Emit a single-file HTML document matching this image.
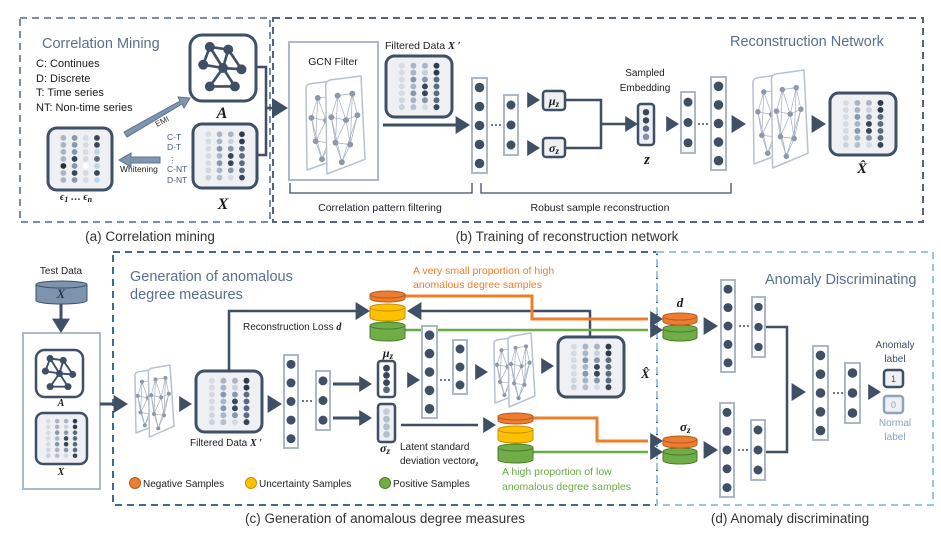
<!DOCTYPE html>
<html><head><meta charset="utf-8"><style>
html,body{margin:0;padding:0;background:#fff;}
svg{display:block;font-family:"Liberation Sans",sans-serif;}
.t{font-size:11px;fill:#1a1a1a;}
.h{font-size:14.5px;fill:#5a6f8c;}
.cap{font-size:13.5px;fill:#333;}
.m{font-family:"Liberation Serif",serif;font-style:italic;font-weight:bold;fill:#1a1a1a;}
</style></head><body>
<svg id="s" width="941" height="533" viewBox="0 0 941 533" xmlns="http://www.w3.org/2000/svg">
<rect x="20" y="18" width="250" height="204" fill="none" stroke="#7b8ea6" stroke-width="2" stroke-dasharray="7,5"/>
<rect x="273" y="18" width="650" height="204" fill="none" stroke="#56657c" stroke-width="2" stroke-dasharray="7,5"/>
<rect x="113" y="252" width="544" height="253" fill="none" stroke="#3d6a98" stroke-width="2" stroke-dasharray="7,5"/>
<rect x="657" y="252" width="276" height="253" fill="none" stroke="#9cc4e6" stroke-width="2" stroke-dasharray="7,5"/>
<text class="cap" x="150" y="241" text-anchor="middle">(a) Correlation mining</text>
<text class="cap" x="567" y="241" text-anchor="middle">(b) Training of reconstruction network</text>
<text class="cap" x="385" y="523" text-anchor="middle">(c) Generation of anomalous degree measures</text>
<text class="cap" x="790" y="523" text-anchor="middle">(d) Anomaly discriminating</text>

<text class="h" x="42" y="48">Correlation Mining</text>
<text class="t" x="36" y="67">C: Continues</text>
<text class="t" x="36" y="82">D: Discrete</text>
<text class="t" x="36" y="96">T: Time series</text>
<text class="t" x="36" y="111">NT: Non-time series</text>
<polygon points="124,132 180,101 178,97 190,98 184,108 182,104 127,137" fill="#8195ae" stroke="#5f7390" stroke-width="1"/>
<text x="157" y="127" font-size="8" fill="#333" transform="rotate(-28 157 127)">EMI</text>
<polygon points="160,157 131,157 131,153 119,160 131,167 131,163 160,163" fill="#8195ae" stroke="#5f7390" stroke-width="1"/>
<text x="120" y="172" font-size="8.5" fill="#222">Whitening</text>
<g font-size="8.5" fill="#4a5a78"><text x="167" y="140">C-T</text><text x="167" y="150">D-T</text><text x="168" y="163">⋮</text><text x="167" y="172">C-NT</text><text x="167" y="183">D-NT</text></g>
<text class="m" x="60" y="200" font-size="10">ϵ<tspan font-size="8" dy="2">1</tspan><tspan dy="-2"> … ϵ</tspan><tspan font-size="8" dy="2">n</tspan></text>
<text class="m" x="222" y="118" font-size="16" text-anchor="middle">A</text>
<text class="m" x="223" y="209" font-size="16" text-anchor="middle">X</text>
<polyline points="256,67 266,67 266,155 257,155" fill="none" stroke="#3f4f66" stroke-width="2.5"/>
<line x1="266" y1="108" x2="277" y2="108" stroke="#3f4f66" stroke-width="2.5"/>

<rect x="289" y="42" width="89" height="138" fill="#fff" stroke="#aab8c8" stroke-width="2"/>
<text x="333" y="65" font-size="10.5" fill="#222" text-anchor="middle">GCN Filter</text>
<text x="385" y="49" font-size="10.5" fill="#222">Filtered Data <tspan class="m">X ′</tspan></text>
<line x1="383" y1="125" x2="458" y2="125" stroke="#3f4f66" stroke-width="3"/>
<text x="645" y="76" font-size="10" fill="#222" text-anchor="middle">Sampled</text>
<text x="645" y="91" font-size="10" fill="#222" text-anchor="middle">Embedding</text>
<text class="m" x="647" y="164" font-size="15" text-anchor="middle">z</text>
<rect x="543" y="91" width="22" height="19" rx="3" fill="#eef0f3" stroke="#3f4f66" stroke-width="2.5"/>
<rect x="543" y="138" width="22" height="19" rx="3" fill="#eef0f3" stroke="#3f4f66" stroke-width="2.5"/>
<text class="m" x="554" y="105" font-size="12" text-anchor="middle" fill="#3f4f66">μ<tspan font-size="9" dy="2">z</tspan></text>
<text class="m" x="554" y="152" font-size="12" text-anchor="middle" fill="#3f4f66">σ<tspan font-size="9" dy="2">z</tspan></text>
<polyline points="565,100 601,100 601,148 565,148" fill="none" stroke="#3f4f66" stroke-width="2.5"/>
<line x1="601" y1="124" x2="628" y2="124" stroke="#3f4f66" stroke-width="2.5"/>
<text class="h" x="730" y="46">Reconstruction Network</text>
<text class="m" x="862" y="173" font-size="15" text-anchor="middle">X̂</text>
<polyline points="290,183 290,193 472,193 472,183" fill="none" stroke="#3f4f66" stroke-width="1.3"/>
<polyline points="481,183 481,193 731,193 731,183" fill="none" stroke="#3f4f66" stroke-width="1.3"/>
<text x="380" y="211" font-size="10.5" fill="#222" text-anchor="middle">Correlation pattern filtering</text>
<text x="600" y="211" font-size="10.5" fill="#222" text-anchor="middle">Robust sample reconstruction</text>

<text x="61" y="274" font-size="10" fill="#222" text-anchor="middle">Test Data</text>
<line x1="61" y1="304" x2="61" y2="322" stroke="#3f4f66" stroke-width="3"/>
<rect x="23" y="333" width="77" height="156" fill="#fff" stroke="#aab8c8" stroke-width="2"/>
<text class="m" x="61" y="406" font-size="10" text-anchor="middle">A</text>
<text class="m" x="61" y="475" font-size="10" text-anchor="middle">X</text>
<line x1="100" y1="404" x2="118" y2="404" stroke="#3f4f66" stroke-width="3"/>
<text class="h" x="130" y="281">Generation of anomalous</text>
<text class="h" x="130" y="299">degree measures</text>
<text x="190" y="446" font-size="10" fill="#222">Filtered Data <tspan class="m">X ′</tspan></text>
<polyline points="229,371 229,311 358,311" fill="none" stroke="#3f4f66" stroke-width="2.5"/>
<text x="243" y="330" font-size="10" fill="#222">Reconstruction Loss <tspan class="m">d</tspan></text>
<line x1="333" y1="384" x2="360" y2="384" stroke="#3f4f66" stroke-width="3"/>
<line x1="333" y1="418" x2="360" y2="418" stroke="#3f4f66" stroke-width="3"/>
<rect x="378" y="361" width="17" height="36" rx="3" fill="#fff" stroke="#3f4f66" stroke-width="2.5"/>
<rect x="378" y="404" width="17" height="38" rx="3" fill="#eef0f3" stroke="#3f4f66" stroke-width="2.5"/>
<text class="m" x="388" y="357" font-size="12" text-anchor="middle">μ<tspan font-size="9" dy="2">z</tspan></text>
<text class="m" x="380" y="452" font-size="12">σ<tspan font-size="9" dy="2">z</tspan></text>
<text x="400" y="450" font-size="10" fill="#222">Latent standard</text>
<text x="400" y="464" font-size="10" fill="#222">deviation vector<tspan class="m">σ</tspan><tspan class="m" font-size="7" dy="2">z</tspan></text>
<line x1="401" y1="425" x2="478" y2="425" stroke="#3f4f66" stroke-width="2.5"/>
<text class="m" x="641" y="378" font-size="13">X̂</text>
<polyline points="590,337 590,311 418,311" fill="none" stroke="#3f4f66" stroke-width="2.5"/>
<polyline points="405,296 532,296 532,319 648,319" fill="none" stroke="#f07d2a" stroke-width="3"/>
<line x1="405" y1="330" x2="648" y2="330" stroke="#6aab45" stroke-width="2.5"/>
<polyline points="532,418 597,418 597,441 648,441" fill="none" stroke="#f07d2a" stroke-width="3"/>
<line x1="532" y1="452" x2="648" y2="452" stroke="#6aab45" stroke-width="2.5"/>
<text x="413" y="274" font-size="10.5" fill="#f07d2a">A very small proportion of high</text>
<text x="413" y="288" font-size="10.5" fill="#f07d2a">anomalous degree samples</text>
<text x="502" y="475" font-size="10.5" fill="#6aab45">A high proportion of low</text>
<text x="502" y="490" font-size="10.5" fill="#6aab45">anomalous degree samples</text>
<circle cx="135" cy="483" r="5.5" fill="#ed7d31" stroke="#b85a1c"/>
<text x="143" y="487" font-size="10" fill="#222">Negative Samples</text>
<circle cx="251" cy="483" r="5.5" fill="#ffc000" stroke="#c49000"/>
<text x="259" y="487" font-size="10" fill="#222">Uncertainty Samples</text>
<circle cx="385" cy="483" r="5.5" fill="#70ad47" stroke="#4a7c2c"/>
<text x="393" y="487" font-size="10" fill="#222">Positive Samples</text>

<text class="h" x="765" y="284">Anomaly Discriminating</text>
<text class="m" x="680" y="307" font-size="13" text-anchor="middle">d</text>
<text class="m" x="680" y="431" font-size="13">σ<tspan font-size="9" dy="2">z</tspan></text>
<polyline points="765,327 787,327 787,452 765,452" fill="none" stroke="#3f4f66" stroke-width="2.5"/>
<text x="895" y="348" font-size="10" fill="#3f4f66" text-anchor="middle">Anomaly</text>
<text x="895" y="362" font-size="10" fill="#3f4f66" text-anchor="middle">label</text>
<rect x="884" y="370" width="19" height="17" rx="3" fill="#eef0f3" stroke="#3f4f66" stroke-width="2.5"/>
<text x="893.5" y="382" font-size="9" fill="#3f4f66" text-anchor="middle">1</text>
<rect x="884" y="396" width="19" height="17" rx="3" fill="#eef0f3" stroke="#8fa3bd" stroke-width="2.5"/>
<text x="893.5" y="408" font-size="9" fill="#8fa3bd" text-anchor="middle">0</text>
<text x="895" y="426" font-size="10" fill="#8aa2c0" text-anchor="middle">Normal</text>
<text x="895" y="440" font-size="10" fill="#8aa2c0" text-anchor="middle">label</text>
<g id="dyn"></g>
</svg>
<script>
var NS="http://www.w3.org/2000/svg",G=document.getElementById("dyn");
function el(t,a){var e=document.createElementNS(NS,t);for(var k in a)e.setAttribute(k,a[k]);G.appendChild(e);return e;}
var D="#3f4f66";
function tri(x,y,dir,s){s=s||9;var p;
 if(dir=="r")p=[x,y,x-s*1.6,y-s,x-s*1.6,y+s];
 else if(dir=="l")p=[x,y,x+s*1.6,y-s,x+s*1.6,y+s];
 else if(dir=="d")p=[x,y,x-s,y-s*1.6,x+s,y-s*1.6];
 el("polygon",{points:p.join(","),fill:D});}
var shades=[["#d5dbe3","#d5dbe3","#d5dbe3","#d5dbe3","#d5dbe3","#cfd6df","#c9d1db"],
 ["#a9b5c5","#a9b5c5","#8797ad","#a9b5c5","#8797ad","#a9b5c5","#b4bfcd"],
 ["#a9b5c5","#c9d1db","#8797ad","#3a4558","#3a4558","#8797ad","#d5dbe3"],
 ["#2f3a4c","#2f3a4c","#5a6a82","#5a6a82","#5a6a82","#5a6a82","#3a4558"]];
function matrix(x,y,w,h,sw,sh){sw=sw||3;
 el("rect",{x:x,y:y,width:w,height:h,rx:Math.min(w,h)*0.14,fill:"#eef0f3",stroke:D,"stroke-width":sw});
 var r=Math.max(1.8,w*0.045);
 for(var c=0;c<4;c++)for(var i=0;i<7;i++){
  el("circle",{cx:x+w*(0.24+c*0.175),cy:y+h*(0.16+i*0.113),r:r,fill:(sh||shades)[c][i]});}}
var eps=[["#a9b5c5","#a9b5c5","#a9b5c5","#a9b5c5","#2e2e2e","#a9b5c5","#a9b5c5"],
 ["#8797ad","#8797ad","#8797ad","#3a4558","#8797ad","#3a4558","#8797ad"],
 ["#d5dbe3","#d5dbe3","#d5dbe3","#d5dbe3","#ffffff","#d5dbe3","#d5dbe3"],
 ["#3a4558","#3a4558","#b7d7ee","#5a6a82","#b7d7ee","#3a4558","#b7d7ee"]];
function graphIcon(x,y,s,sw){
 el("rect",{x:x,y:y,width:s,height:s,rx:s*0.18,fill:"#fff",stroke:D,"stroke-width":sw||3});
 var n=[[.3,.18],[.58,.22],[.2,.45],[.5,.5],[.78,.52],[.3,.78],[.68,.78]];
 var e=[[0,1],[0,2],[0,3],[1,3],[1,4],[3,4],[3,5],[3,6],[5,6],[2,3]];
 e.forEach(function(p){el("line",{x1:x+s*n[p[0]][0],y1:y+s*n[p[0]][1],x2:x+s*n[p[1]][0],y2:y+s*n[p[1]][1],stroke:D,"stroke-width":s*0.04});});
 n.forEach(function(p){el("circle",{cx:x+s*p[0],cy:y+s*p[1],r:s*0.075,fill:D});});}
function card(x,y,w,h){
 el("path",{d:"M"+(x+3)+" "+(y+h*0.12)+" Q"+(x+2)+" "+(y+h*0.05)+" "+(x+8)+" "+(y+h*0.04)+" L"+(x+w-4)+" "+y+" L"+(x+w)+" "+(y+h*0.85)+" L"+(x+4)+" "+(y+h)+" Z",fill:"#fff",stroke:"#b7c2d0","stroke-width":1.5,"stroke-linejoin":"round"});
 var P=[[.35,.2],[.7,.18],[.2,.42],[.55,.45],[.82,.4],[.3,.68],[.65,.7],[.45,.88]];
 var pts=P.map(function(p){return [x+w*p[0],y+h*p[1]];});
 var E=[[0,1],[0,2],[0,3],[1,3],[1,4],[2,3],[3,4],[2,5],[3,5],[3,6],[4,6],[5,6],[5,7],[6,7],[0,5],[1,6],[2,7],[4,7]];
 E.forEach(function(q){el("line",{x1:pts[q[0]][0],y1:pts[q[0]][1],x2:pts[q[1]][0],y2:pts[q[1]][1],stroke:"#a3aebd","stroke-width":0.7});});
 pts.forEach(function(p){el("circle",{cx:p[0],cy:p[1],r:Math.max(1.8,w*0.07),fill:"#8d99aa"});});}
function cards(x,y,w,h){card(x,y+4,w*0.68,h-8);card(x+w*0.32,y,w*0.68,h);}
function column(x,y,w,h,n){
 el("rect",{x:x,y:y,width:w,height:h,fill:"#fff",stroke:"#aab8c8","stroke-width":2});
 for(var i=0;i<n;i++)el("circle",{cx:x+w/2,cy:y+h*(i+0.5)/n,r:w*0.32,fill:D});}
function dots(x,y){for(var i=0;i<3;i++)el("circle",{cx:x+i*4,cy:y,r:1,fill:D});}
function minivec(x,y,w,h,cols){for(var i=0;i<4;i++)el("circle",{cx:x+w/2,cy:y+h*(0.2+i*0.2),r:w*0.2,fill:cols[i]});}
function cyl(x,y,w,h,col,sc){var ry=3.5;
 el("path",{d:"M"+x+" "+(y+ry)+" L"+x+" "+(y+h-ry)+" A"+w/2+" "+ry+" 0 0 0 "+(x+w)+" "+(y+h-ry)+" L"+(x+w)+" "+(y+ry),fill:col,stroke:sc,"stroke-width":1});
 el("ellipse",{cx:x+w/2,cy:y+ry,rx:w/2,ry:ry,fill:col,stroke:sc,"stroke-width":1});}
matrix(48,128,64,62,3,eps);
graphIcon(190,35,66,3);
matrix(193,124,64,64);
tri(288,108,"r",10);
cards(303,76,62,98);
matrix(386,56,66,61);
tri(470,125,"r",9);
column(472,78,15,95,5);dots(492,125);column(504,95,14,60,3);
tri(540,100,"r",8);tri(540,148,"r",8);
tri(638,124,"r",8);
el("rect",{x:638,y:104,width:16,height:41,rx:3,fill:"#eef0f3",stroke:D,"stroke-width":2.5});
minivec(638,104,16,41,["#3a4558","#3a4558","#5a6a82","#7f90a8"]);
tri(679,124,"r",8);
column(681,92,14,61,3);dots(699,124);column(711,77,15,93,5);
tri(746,124,"r",9);
cards(750,70,58,98);
tri(826,124,"r",9);
matrix(830,93,66,62);
cyl(36,281,51,23,"#7e93ad","#3f4f66");
el("text",{x:61,y:298,"font-size":13,"text-anchor":"middle","font-family":"Liberation Serif","font-style":"italic","font-weight":"bold",fill:"#2d3a4e"}).textContent="X";
tri(61,333,"d",9);
graphIcon(36,350,47,2.5);
matrix(36,413,51,51,2.5);
tri(128,404,"r",9);
cards(132,365,42,72);
tri(192,404,"r",8);
matrix(196,371,66,61);
tri(282,404,"r",9);
column(284,355,14,93,5);dots(303,401);column(316,371,14,59,3);
tri(372,384,"r",8);tri(372,418,"r",8);
minivec(378,361,17,36,["#3a4558","#3a4558","#3a4558","#5a6a82"]);
minivec(378,404,17,38,["#c5cdd8","#b4bfcd","#b4bfcd","#b4bfcd"]);
tri(420,380,"r",8);
column(422,326,15,92,5);dots(441,380);column(453,340,14,54,3);
tri(488,372,"r",8);
cards(491,333,44,74);
tri(554,366,"r",8);
matrix(558,337,66,60);
tri(370,311,"r",9);tri(407,311,"l",9);
function stack(x,y){cyl(x,y+31,35,19,"#70ad47","#4a7c2c");cyl(x,y+13,35,17,"#ffc000","#c49000");cyl(x,y,35,11,"#ed7d31","#b85a1c");}
stack(370,291);
tri(496,425,"r",8);
stack(498,413);
tri(663,319,"r",8);tri(663,330,"r",8);
tri(663,441,"r",8);tri(663,452,"r",8);
cyl(663,325,34,16,"#70ad47","#4a7c2c");cyl(663,313,34,12,"#ed7d31","#b85a1c");
cyl(663,448,34,16,"#70ad47","#4a7c2c");cyl(663,436,34,12,"#ed7d31","#b85a1c");
tri(718,326,"r",9);tri(718,450,"r",9);
column(721,280,14,92,5);dots(740,326);column(752,297,13,60,3);
column(720,403,14,94,5);dots(739,450);column(751,420,14,60,3);
tri(806,392,"r",9);
column(813,346,15,94,5);dots(834,393);column(845,363,15,60,3);
tri(881,392,"r",8);
</script>
</body></html>
